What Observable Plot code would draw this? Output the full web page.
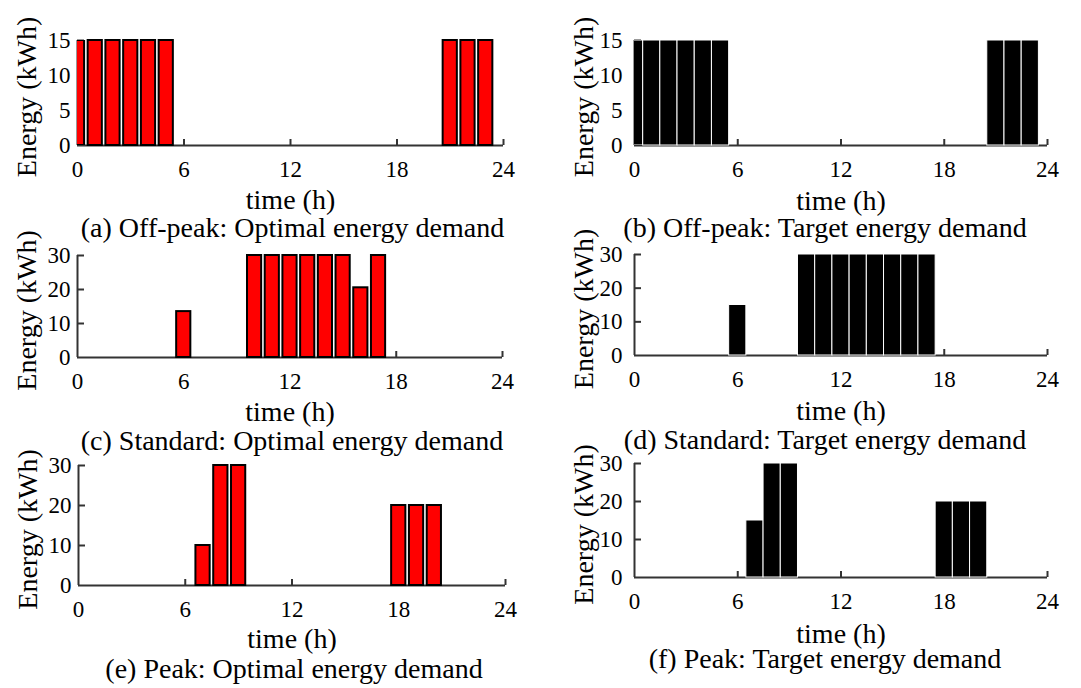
<!DOCTYPE html>
<html>
<head>
<meta charset="utf-8">
<script src="https://cdn.jsdelivr.net/npm/d3@7"></script>
<script src="https://cdn.jsdelivr.net/npm/@observablehq/plot@0.6"></script>
<style>
  html, body { margin: 0; padding: 0; background: #fff; }
  #wrap { position: relative; width: 1081px; height: 688px; overflow: hidden; background: #fff; }
  #wrap > div { position: absolute; }
  #wrap svg { overflow: visible; }
</style>
</head>
<body>
<div id="wrap"></div>
<script>
// ---- data ----
const hours = [0,1,2,3,4,5,6,7,8,9,10,11,12,13,14,15,16,17,18,19,20,21,22,23];
const xTicks = [0, 6, 12, 18, 24];
const yTicksOffPeak = [0, 5, 10, 15];
const yTicksOther = [0, 10, 20, 30];

const offPeakOptimal = [15,15,15,15,15,15,0,0,0,0,0,0,0,0,0,0,0,0,0,0,0,15,15,15];
const offPeakTarget  = [15,15,15,15,15,15,0,0,0,0,0,0,0,0,0,0,0,0,0,0,0,15,15,15];
const standardOptimal = [0,0,0,0,0,0,13.5,0,0,0,30,30,30,30,30,30,20.5,30,0,0,0,0,0,0];
const standardTarget  = [0,0,0,0,0,0,15,0,0,0,30,30,30,30,30,30,30,30,0,0,0,0,0,0];
const peakOptimal = [0,0,0,0,0,0,0,10,30,30,0,0,0,0,0,0,0,0,20,20,20,0,0,0];
const peakTarget  = [0,0,0,0,0,0,0,15,30,30,0,0,0,0,0,0,0,0,20,20,20,0,0,0];

const captions = {
  a: "(a) Off-peak: Optimal energy demand",
  b: "(b) Off-peak: Target energy demand",
  c: "(c) Standard: Optimal energy demand",
  d: "(d) Standard: Target energy demand",
  e: "(e) Peak: Optimal energy demand",
  f: "(f) Peak: Target energy demand"
};
const xLabel = "time (h)";
const yLabel = "Energy (kWh)";

// ---- drawing ----
const FONT = "'Liberation Serif', 'Times New Roman', serif";

function panel(cfg) {
  const {values, yMax, yTicks, kind, caption, left, top, width, height, mL, mR, mT, mB, yPad, capDx, timeDy, capDy} = cfg;
  const half = kind === "optimal" ? 0.4 : 0.5;
  const data = hours.map((h, i) => ({h, v: values[i], x1: h - half, x2: h + half})).filter(d => d.v > 0);
  const plotW = width - mL - mR;
  const plotH = height - mT - mB;
  const barStyle = kind === "optimal"
    ? {fill: "#ff0000", stroke: "#000", strokeWidth: 2}
    : {fill: "#000", stroke: "#fff", strokeWidth: 1};
  const chart = Plot.plot({
    width, height,
    marginLeft: mL, marginRight: mR, marginTop: mT, marginBottom: mB,
    style: {fontFamily: FONT, background: "transparent", color: "#000", overflow: "visible"},
    x: {domain: [0, 24], axis: null},
    y: {domain: [0, yMax], axis: null},
    marks: [
      Plot.ruleY([0], {stroke: "#333", strokeWidth: 2}),
      Plot.ruleX([0], {stroke: "#333", strokeWidth: 2}),
      Plot.tickX(xTicks.slice(1), {x: d => d, insetTop: plotH - 6, stroke: "#333", strokeWidth: 2}),
      Plot.tickY(yTicks.slice(1), {y: d => d, insetRight: plotW - 7, stroke: "#333", strokeWidth: 2}),
      Plot.axisX({ticks: xTicks, tickSize: 0, tickPadding: 15, fontSize: 23, label: null, tickFormat: d => String(d)}),
      Plot.axisY({ticks: yTicks, tickSize: 0, tickPadding: yPad, fontSize: 23, label: null, tickFormat: d => String(d)}),
      Plot.rectY(data, {x1: "x1", x2: "x2", y: "v", ...barStyle, filter: d => d.x1 >= 0}),
      Plot.rectY(data, {x1: "x1", x2: "x2", y: "v", ...barStyle, filter: d => d.x1 < 0, clip: true}),
      Plot.text([xLabel], {text: d => d, frameAnchor: "bottom", textAnchor: "middle", lineAnchor: "middle", dy: timeDy, fontSize: 28}),
      Plot.text([yLabel], {text: d => d, frameAnchor: "left", textAnchor: "middle", lineAnchor: "middle", dx: -50, dy: 4, rotate: -90, fontSize: 28}),
      Plot.text([caption], {text: d => d, frameAnchor: "bottom", textAnchor: "middle", lineAnchor: "middle", dx: capDx, dy: capDy, fontSize: 28})
    ]
  });
  const holder = document.createElement("div");
  holder.style.left = left + "px";
  holder.style.top = top + "px";
  holder.style.width = width + "px";
  holder.style.height = height + "px";
  holder.appendChild(chart);
  document.getElementById("wrap").appendChild(holder);
}

const L = {left: 0, width: 540, yPad: 7, capDx: 2};
const R = {left: 540, width: 541, yPad: 12, capDx: -16, mL: 94, mR: 34};

panel({...L, values: offPeakOptimal, yMax: 15, yTicks: yTicksOffPeak, kind: "optimal", caption: captions.a,
  top: 0, height: 230, mL: 77, mR: 37, mT: 40, mB: 85, timeDy: 55, capDy: 83});
panel({...L, values: standardOptimal, yMax: 30, yTicks: yTicksOther, kind: "optimal", caption: captions.c,
  top: 230, height: 229, mL: 77, mR: 38, mT: 25, mB: 102, timeDy: 55, capDy: 84});
panel({...L, values: peakOptimal, yMax: 30, yTicks: yTicksOther, kind: "optimal", caption: captions.e,
  top: 459, height: 229, mL: 78, mR: 35, mT: 6, mB: 103, timeDy: 54, capDy: 84});

panel({...R, values: offPeakTarget, yMax: 15, yTicks: yTicksOffPeak, kind: "target", caption: captions.b,
  top: 0, height: 230, mT: 40, mB: 85, timeDy: 56, capDy: 83});
panel({...R, values: standardTarget, yMax: 30, yTicks: yTicksOther, kind: "target", caption: captions.d,
  top: 230, height: 229, mT: 24, mB: 104, timeDy: 56, capDy: 85});
panel({...R, values: peakTarget, yMax: 30, yTicks: yTicksOther, kind: "target", caption: captions.f,
  top: 459, height: 229, mT: 4, mB: 111, timeDy: 57, capDy: 82});
</script>
</body>
</html>
